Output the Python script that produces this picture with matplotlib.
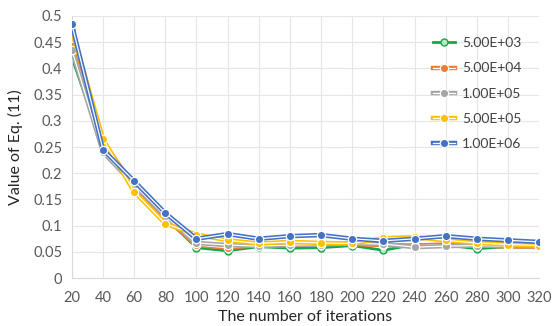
import matplotlib.pyplot as plt

iterations = [20, 40, 60, 80, 100, 120, 140, 160, 180, 200, 220, 240, 260, 280, 300, 320]

labels = ["5.00E+03", "5.00E+04", "1.00E+05", "5.00E+05", "1.00E+06"]
colors = ["#13A84A", "#ED7D31", "#A5A5A5", "#FFC000", "#4472C4"]

v_5e3 = [0.421, 0.250, 0.180, 0.115, 0.058, 0.052, 0.060, 0.057, 0.058, 0.062, 0.053, 0.064, 0.063, 0.056, 0.060, 0.061]
v_5e4 = [0.442, 0.260, 0.175, 0.115, 0.063, 0.058, 0.063, 0.065, 0.066, 0.065, 0.063, 0.062, 0.064, 0.063, 0.060, 0.060]
v_1e5 = [0.435, 0.240, 0.178, 0.118, 0.067, 0.063, 0.061, 0.063, 0.064, 0.066, 0.065, 0.059, 0.061, 0.062, 0.061, 0.061]
v_5e5 = [0.473, 0.265, 0.165, 0.104, 0.083, 0.072, 0.066, 0.069, 0.067, 0.066, 0.076, 0.078, 0.072, 0.067, 0.064, 0.062]
v_1e6 = [0.484, 0.245, 0.185, 0.124, 0.075, 0.084, 0.075, 0.080, 0.082, 0.075, 0.071, 0.075, 0.080, 0.075, 0.072, 0.069]

series = [v_5e3, v_5e4, v_1e5, v_5e5, v_1e6]

plt.rcParams['font.family'] = ['Lato', 'DejaVu Sans']

fig = plt.figure(figsize=(5.57, 3.26), dpi=100)
ax = fig.add_axes([0.129, 0.147, 0.839, 0.804])

handles = []
for i, (vals, lab, c) in enumerate(zip(series, labels, colors)):
    z = 2 + i
    if i == 0:
        # simple solid line, open markers
        l1, = ax.plot(iterations, vals, color=c, lw=2.0, zorder=z)
        m, = ax.plot(iterations, vals, ls='none', marker='o', ms=5,
                     mfc='#B8E6C6', mec=c, mew=1.0, zorder=z)
        handles.append((l1, m))
    else:
        # double line (coloured with white core)
        l1, = ax.plot(iterations, vals, color=c, lw=3.2, zorder=z)
        l2, = ax.plot(iterations, vals, color='white', lw=0.9, zorder=z)
        m, = ax.plot(iterations, vals, ls='none', marker='o', ms=6,
                     mfc=c, mec='white', mew=0.9, zorder=z)
        handles.append((l1, l2, m))

ax.set_xlim(20, 320)
ax.set_ylim(0, 0.5)
ax.set_xticks(iterations)
ax.set_yticks([0, 0.05, 0.1, 0.15, 0.2, 0.25, 0.3, 0.35, 0.4, 0.45, 0.5])
ax.set_yticklabels(["0", "0.05", "0.1", "0.15", "0.2", "0.25", "0.3", "0.35", "0.4", "0.45", "0.5"])
ax.grid(True, color='#E6E6E6', lw=0.8)
ax.set_axisbelow(True)
for s in ['top', 'right']:
    ax.spines[s].set_visible(False)
for s in ['left', 'bottom']:
    ax.spines[s].set_color('#D9D9D9')
ax.tick_params(length=0, labelsize=10.5, colors='#595959')
ax.tick_params(axis='x', pad=9)
ax.tick_params(axis='y', pad=7)

ax.set_xlabel("The number of iterations", fontsize=11.5, color='#262626', labelpad=4)
ax.set_ylabel("Value of Eq. (11)", fontsize=11.5, color='#262626', labelpad=7)

leg = ax.legend(handles, labels, loc='upper left', bbox_to_anchor=(0.76, 0.94),
                frameon=False, fontsize=10, labelspacing=0.95, handlelength=1.6,
                handletextpad=0.5, borderaxespad=0)
for t in leg.get_texts():
    t.set_color('#404040')

fig.savefig("out.png", dpi=100)
